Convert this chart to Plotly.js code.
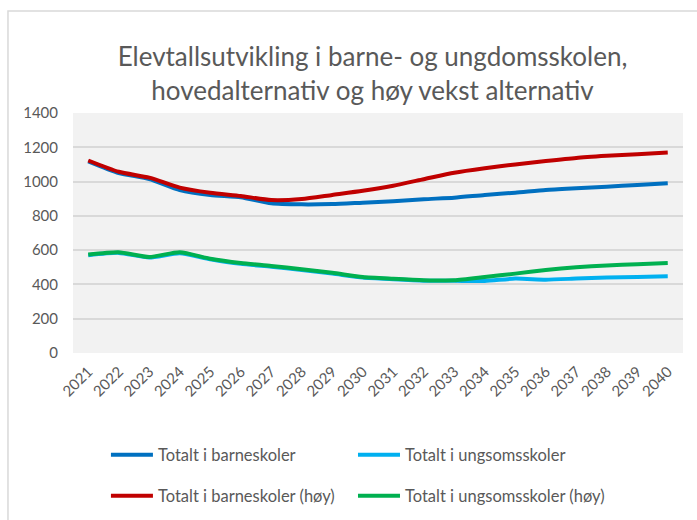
<!DOCTYPE html>
<html>
<head>
<meta charset="utf-8">
<script src="https://cdn.plot.ly/plotly-3.0.1.min.js"></script>
<style>html,body{margin:0;padding:0;background:#fff;}#chart{width:697px;height:520px;}</style>
</head>
<body>
<div id="chart"></div>
<script>
const years = ["2021","2022","2023","2024","2025","2026","2027","2028","2029","2030","2031","2032","2033","2034","2035","2036","2037","2038","2039","2040"];
const barneskoler = [1118,1050,1015,951,922,908,873,867,869,877,885,897,906,922,935,951,961,970,980,990];
const ungdomsskoler = [570,584,557,582,547,520,503,484,463,440,430,422,421,420,434,428,434,440,443,447];
const barneskolerHoy = [1123,1057,1023,965,935,916,892,898,922,946,976,1014,1052,1078,1100,1120,1138,1150,1160,1170];
const ungdomsskolerHoy = [574,588,560,588,550,525,508,488,468,443,433,425,424,443,463,484,500,511,518,525];
const seriesNames = ["Totalt i barneskoler","Totalt i ungsomsskoler","Totalt i barneskoler (høy)","Totalt i ungsomsskoler (høy)"];
const titleText = "Elevtallsutvikling i barne- og ungdomsskolen,<br>hovedalternativ og høy vekst alternativ";

const FONT = "Lato, 'Open Sans', sans-serif";
const TXT = "#595959";
function mk(y, name, color, legend) {
  return {x: years, y: y, name: name, type: "scatter", mode: "lines",
    line: {color: color, width: 4, shape: "spline", smoothing: 0.6},
    legend: legend, hoverinfo: "skip"};
}
const data = [
  mk(barneskoler, seriesNames[0], "#0070C0", "legend"),
  mk(ungdomsskoler, seriesNames[1], "#00B0F0", "legend3"),
  mk(barneskolerHoy, seriesNames[2], "#C00000", "legend2"),
  mk(ungdomsskolerHoy, seriesNames[3], "#00B050", "legend4")
];
const legendBase = {orientation: "h", xanchor: "left", yanchor: "middle",
  font: {family: FONT, size: 16.5, color: TXT},
  itemwidth: 42, bgcolor: "rgba(0,0,0,0)", traceorder: "normal"};
const COL1 = 0.054, COL2 = 0.459, ROW1 = -0.425, ROW2 = -0.596;
const layout = {
  width: 697, height: 520,
  margin: {l: 73, r: 14, t: 113, b: 167, autoexpand: false},
  paper_bgcolor: "#ffffff", plot_bgcolor: "#f2f2f2",
  font: {family: FONT, color: TXT},
  title: {text: titleText, font: {family: FONT, size: 26, color: TXT},
    x: 0.491, xanchor: "center", xref: "paper", y: 0.873, yanchor: "middle", yref: "container"},
  showlegend: true,
  legend: Object.assign({}, legendBase, {x: COL1, y: ROW1}),
  legend3: Object.assign({}, legendBase, {x: COL2, y: ROW1}),
  legend2: Object.assign({}, legendBase, {x: COL1, y: ROW2}),
  legend4: Object.assign({}, legendBase, {x: COL2, y: ROW2}),
  xaxis: {type: "category", range: [-0.5, 19.5], showgrid: false, zeroline: false, showline: false,
    ticks: "", tickangle: -45, tickfont: {family: FONT, size: 15, color: TXT}, ticklabelstandoff: 6, fixedrange: true},
  yaxis: {range: [0, 1400], dtick: 200, tick0: 0, showgrid: true, gridcolor: "#d9d9d9", gridwidth: 2,
    zeroline: false, showline: false, ticks: "", tickfont: {family: FONT, size: 15, color: TXT},
    ticklabelstandoff: 14, fixedrange: true},
  shapes: [{type: "rect", xref: "paper", yref: "paper", x0: -0.1066, x1: 1.05, y0: -0.75, y1: 1.425,
    line: {color: "#d9d9d9", width: 1.5}, fillcolor: "rgba(0,0,0,0)", layer: "below"}]
};
Plotly.newPlot("chart", data, layout, {displayModeBar: false, staticPlot: true});
</script>
</body>
</html>
